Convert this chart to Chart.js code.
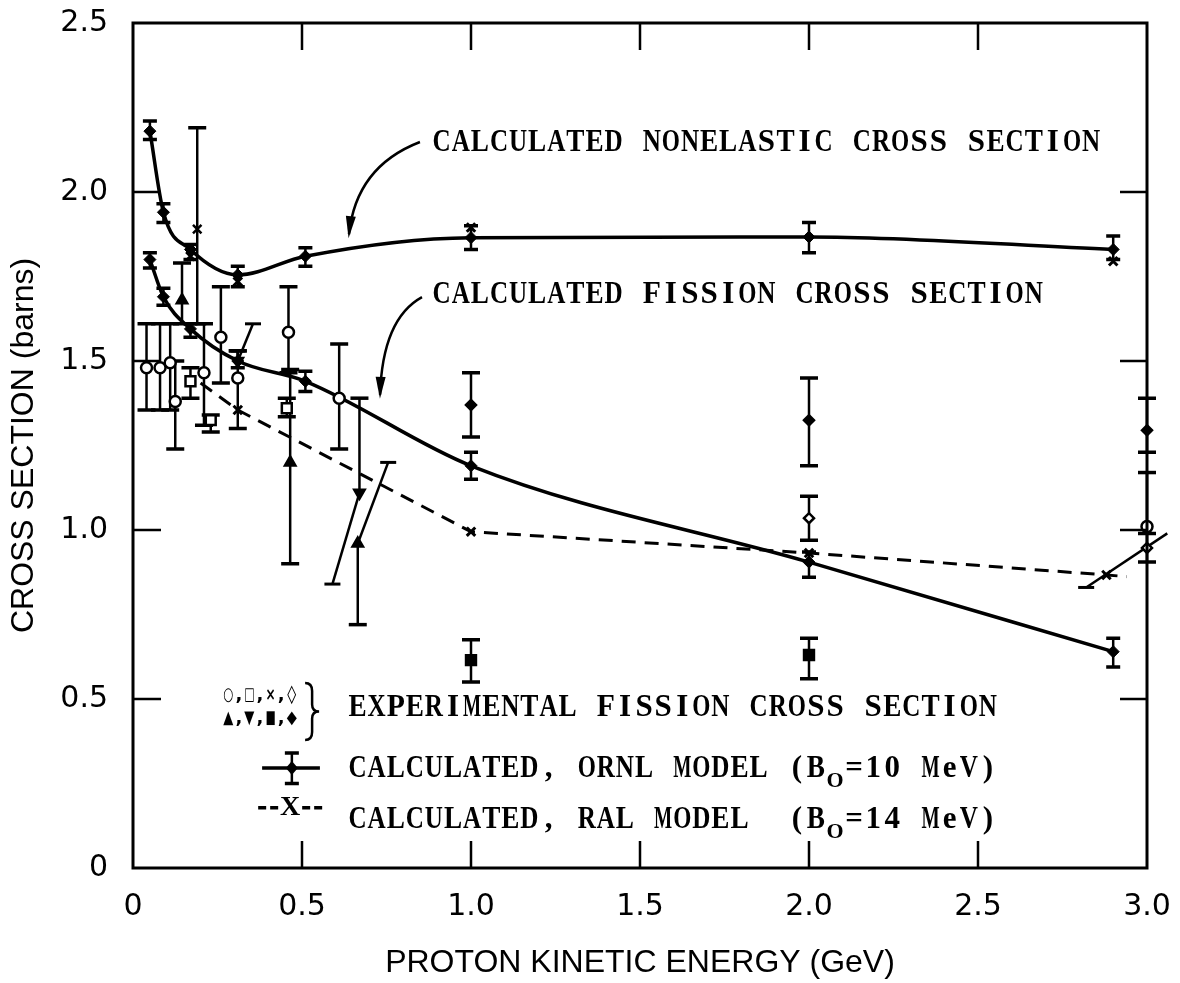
<!DOCTYPE html>
<html>
<head>
<meta charset="utf-8">
<script src="https://cdn.jsdelivr.net/npm/chart.js@4.4.1/dist/chart.umd.min.js"></script>
<style>
  html, body { margin: 0; padding: 0; background: #fff; }
  #wrap { width: 1180px; height: 983px; }
</style>
</head>
<body>
<div id="wrap"><canvas id="fission" width="1180" height="983"></canvas></div>
<script>
// axis tick labels
var xTickLabels = ['0', '0.5', '1.0', '1.5', '2.0', '2.5', '3.0'];
var yTickLabels = ['0', '0.5', '1.0', '1.5', '2.0', '2.5'];

// calculated nonelastic, ORNL model (GeV, barns)
var neE  = [0.05, 0.09, 0.17, 0.31, 0.51, 1.0, 2.0, 2.9];
var neS  = [2.18, 1.94, 1.83, 1.755, 1.81, 1.865, 1.867, 1.83];
var neLo = [2.155, 1.91, 1.80, 1.72, 1.78, 1.83, 1.82, 1.80];
var neHi = [2.21, 1.965, 1.845, 1.78, 1.835, 1.90, 1.91, 1.87];

// calculated fission, ORNL model
var fiE  = [0.05, 0.09, 0.17, 0.31, 0.51, 1.0, 2.0, 2.9];
var fiS  = [1.80, 1.69, 1.595, 1.50, 1.44, 1.19, 0.905, 0.64];
var fiLo = [1.775, 1.665, 1.57, 1.48, 1.41, 1.15, 0.86, 0.595];
var fiHi = [1.82, 1.715, 1.61, 1.53, 1.47, 1.23, 0.935, 0.68];

// calculated, RAL model
var ralFiE = [0.2, 0.31, 1.0, 2.0, 2.88, 2.94];
var ralFiS = [1.435, 1.355, 0.995, 0.932, 0.867, 0.862];
var ralNeE = [0.17, 0.31, 1.0, 2.9];
var ralNeS = [1.81, 1.735, 1.895, 1.795];

// experimental fission cross sections
var circE  = [0.04, 0.08, 0.11, 0.125, 0.21, 0.26, 0.31, 0.46, 0.61, 3.0];
var circS  = [1.48, 1.48, 1.495, 1.38, 1.465, 1.57, 1.45, 1.585, 1.39, 1.01];
var circLo = [1.355, 1.355, 1.355, 1.24, 1.31, 1.435, 1.30, 1.465, 1.24, 1.01];
var circHi = [1.61, 1.61, 1.61, 1.50, 1.61, 1.72, 1.53, 1.72, 1.55, 1.17];

var sqE  = [0.17, 0.23, 0.455];
var sqS  = [1.44, 1.325, 1.36];
var sqLo = [1.39, 1.29, 1.335];
var sqHi = [1.48, 1.34, 1.39];

var crossE  = [0.19];
var crossS  = [1.89];
var crossLo = [1.61];
var crossHi = [2.19];

var openDiaE  = [2.0, 3.0];
var openDiaS  = [1.035, 0.947];
var openDiaLo = [0.97, 0.905];
var openDiaHi = [1.10, 0.99];

var triUpE  = [0.145, 0.465, 0.665];
var triUpS  = [1.68, 1.20, 0.96];
var triUpLo = [1.61, 0.90, 0.72];
var triUpHi = [1.79, 1.475, 0.96];

var triDnE  = [0.31, 0.67];
var triDnS  = [1.50, 1.11];
var triDnLo = [1.50, 1.11];
var triDnHi = [1.53, 1.39];

var fillSqE  = [1.0, 2.0];
var fillSqS  = [0.615, 0.63];
var fillSqLo = [0.55, 0.56];
var fillSqHi = [0.675, 0.68];

var fillDiaE  = [1.0, 2.0, 3.0];
var fillDiaS  = [1.37, 1.325, 1.295];
var fillDiaLo = [1.275, 1.19, 1.23];
var fillDiaHi = [1.465, 1.45, 1.39];

// slanted bars
var slantFromE = [0.31, 0.59, 0.665, 2.82];
var slantFromS = [1.50, 0.84, 0.96, 0.83];
var slantToE   = [0.355, 0.67, 0.755, 3.06];
var slantToS   = [1.61, 1.11, 1.20, 0.99];
var slantCapFrom = [false, true, false, true];
var slantCapTo   = [true, false, true, true];

function pts(e, s) {
  return e.map(function(v, i) { return {x: v, y: s[i]}; });
}

function expSet(label, e, s, lo, hi, style, fill, radius, rot) {
  return {
    label: label,
    data: pts(e, s),
    errLo: lo, errHi: hi, capHalf: 9,
    showLine: false,
    pointStyle: style,
    pointRadius: radius,
    pointRotation: rot || 0,
    pointBackgroundColor: fill,
    pointBorderColor: '#000',
    pointBorderWidth: 2.5
  };
}

var datasets = [
  expSet('circle', circE, circS, circLo, circHi, 'circle', '#fff', 5.5),
  expSet('square', sqE, sqS, sqLo, sqHi, 'rect', '#fff', 7),
  expSet('cross', crossE, crossS, crossLo, crossHi, 'crossRot', '#fff', 6),
  expSet('open diamond', openDiaE, openDiaS, openDiaLo, openDiaHi, 'rectRot', '#fff', 5),
  expSet('triangle up', triUpE, triUpS, triUpLo, triUpHi, 'triangle', '#000', 6),
  expSet('triangle down', triDnE, triDnS, triDnLo, triDnHi, 'triangle', '#000', 6, 180),
  expSet('filled square', fillSqE, fillSqS, fillSqLo, fillSqHi, 'rect', '#000', 7),
  expSet('filled diamond', fillDiaE, fillDiaS, fillDiaLo, fillDiaHi, 'rectRot', '#000', 5),
  {
    label: 'RAL nonelastic',
    data: pts(ralNeE, ralNeS),
    showLine: false,
    pointStyle: 'crossRot', pointRadius: 6,
    pointBorderColor: '#000', pointBorderWidth: 3
  },
  {
    label: 'ORNL nonelastic',
    data: pts(neE, neS),
    errLo: neLo, errHi: neHi, capHalf: 7,
    showLine: true, borderColor: '#000', borderWidth: 3.5,
    cubicInterpolationMode: 'monotone',
    pointStyle: 'rectRot', pointRadius: 6,
    pointBackgroundColor: '#000', pointBorderColor: '#000', pointBorderWidth: 1
  },
  {
    label: 'ORNL fission',
    data: pts(fiE, fiS),
    errLo: fiLo, errHi: fiHi, capHalf: 7,
    showLine: true, borderColor: '#000', borderWidth: 3.5,
    cubicInterpolationMode: 'monotone',
    pointStyle: 'rectRot', pointRadius: 6,
    pointBackgroundColor: '#000', pointBorderColor: '#000', pointBorderWidth: 1
  },
  {
    label: 'RAL fission',
    data: pts(ralFiE, ralFiS),
    showLine: true, borderColor: '#000', borderWidth: 3,
    borderDash: [14, 9],
    pointStyle: 'crossRot',
    pointRadius: ralFiE.map(function(v, i) { return (i === 0 || i === ralFiE.length - 1) ? 0 : 6; }),
    pointBorderColor: '#000', pointBorderWidth: 3
  }
];

slantFromE.forEach(function(v, i) {
  datasets.push({
    label: 'slant ' + i,
    data: [{x: v, y: slantFromS[i]}, {x: slantToE[i], y: slantToS[i]}],
    showLine: true, borderColor: '#000', borderWidth: 2.5,
    pointStyle: 'line',
    pointRadius: [slantCapFrom[i] ? 8 : 0, slantCapTo[i] ? 8 : 0],
    pointBorderColor: '#000', pointBorderWidth: 3
  });
});

// vertical error bars, drawn under the markers
var errorBars = {
  id: 'errorBars',
  beforeDatasetsDraw: function(chart) {
    var ctx = chart.ctx, xs = chart.scales.x, ys = chart.scales.y;
    ctx.save();
    ctx.strokeStyle = '#000';
    chart.data.datasets.forEach(function(ds) {
      if (!ds.errLo) return;
      ds.data.forEach(function(p, i) {
        var lo = ds.errLo[i], hi = ds.errHi[i];
        var x = xs.getPixelForValue(p.x);
        var yl = ys.getPixelForValue(lo), yh = ys.getPixelForValue(hi);
        var w = ds.capHalf;
        ctx.lineWidth = 2.5;
        ctx.beginPath();
        ctx.moveTo(x, yl); ctx.lineTo(x, yh);
        ctx.stroke();
        ctx.lineWidth = 3.5;
        ctx.beginPath();
        if (lo < p.y - 0.004) { ctx.moveTo(x - w, yl); ctx.lineTo(x + w, yl); }
        if (hi > p.y + 0.004) { ctx.moveTo(x - w, yh); ctx.lineTo(x + w, yh); }
        ctx.stroke();
      });
    });
    ctx.restore();
  }
};

function typewrite(ctx, str, x, y, cell) {
  for (var i = 0; i < str.length; i++) {
    if (str[i] !== ' ') ctx.fillText(str[i], x + cell * (i + 0.5), y, cell * 0.95);
  }
}

function arrow(ctx, p0, p1, p2) {
  ctx.lineWidth = 2.5;
  ctx.beginPath();
  ctx.moveTo(p0[0], p0[1]);
  ctx.quadraticCurveTo(p1[0], p1[1], p2[0], p2[1]);
  ctx.stroke();
  var ang = Math.atan2(p2[1] - p1[1], p2[0] - p1[0]);
  var len = 18, half = 5;
  ctx.beginPath();
  ctx.moveTo(p2[0] + Math.cos(ang) * 4, p2[1] + Math.sin(ang) * 4);
  ctx.lineTo(p2[0] - Math.cos(ang) * len - Math.sin(ang) * half, p2[1] - Math.sin(ang) * len + Math.cos(ang) * half);
  ctx.lineTo(p2[0] - Math.cos(ang) * len + Math.sin(ang) * half, p2[1] - Math.sin(ang) * len - Math.cos(ang) * half);
  ctx.closePath();
  ctx.fill();
}

// frame with inward ticks, labels, arrows and the in-plot key
var notes = {
  id: 'notes',
  afterDraw: function(chart) {
    var ctx = chart.ctx, a = chart.chartArea, xs = chart.scales.x, ys = chart.scales.y;
    var X = function(v) { return xs.getPixelForValue(v); };
    var Y = function(v) { return ys.getPixelForValue(v); };
    ctx.save();
    ctx.strokeStyle = '#000';
    ctx.fillStyle = '#000';

    ctx.lineWidth = 3;
    ctx.strokeRect(a.left, a.top, a.right - a.left, a.bottom - a.top);
    ctx.lineWidth = 2.5;
    ctx.beginPath();
    xs.ticks.forEach(function(t, i) {
      if (i === 0 || i === xs.ticks.length - 1) return;
      var px = X(t.value);
      ctx.moveTo(px, a.bottom); ctx.lineTo(px, a.bottom - 27);
      ctx.moveTo(px, a.top); ctx.lineTo(px, a.top + 27);
    });
    ys.ticks.forEach(function(t, i) {
      if (i === 0 || i === ys.ticks.length - 1) return;
      var py = Y(t.value);
      ctx.moveTo(a.left, py); ctx.lineTo(a.left + 28, py);
      ctx.moveTo(a.right, py); ctx.lineTo(a.right - 27, py);
    });
    ctx.stroke();

    ctx.textAlign = 'center';
    ctx.textBaseline = 'middle';
    var cell = 19.1;
    var big = 'bold 31px "Liberation Serif"';
    var sub = 'bold 22px "Liberation Serif"';
    ctx.font = big;
    typewrite(ctx, 'CALCULATED NONELASTIC CROSS SECTION', X(0.885), Y(2.145), cell);
    typewrite(ctx, 'CALCULATED FISSION CROSS SECTION', X(0.885), Y(1.695), cell);

    arrow(ctx, [X(0.849), Y(2.148)], [X(0.660), Y(2.075)], [X(0.639), Y(1.875)]);
    arrow(ctx, [X(0.855), Y(1.689)], [X(0.738), Y(1.625)], [X(0.731), Y(1.40)]);

    // key
    var kx = X(0.636);
    typewrite(ctx, 'EXPERIMENTAL FISSION CROSS SECTION', kx, Y(0.473), cell);
    var rows = [['CALCULATED, ORNL MODEL (B', '=10 MeV)', Y(0.293)],
                ['CALCULATED, RAL MODEL  (B', '=14 MeV)', Y(0.142)]];
    rows.forEach(function(r) {
      ctx.font = big;
      typewrite(ctx, r[0], kx, r[2], cell);
      typewrite(ctx, r[1], kx + cell * 26, r[2], cell);
      ctx.font = sub;
      typewrite(ctx, 'O', kx + cell * 25, r[2] + 12, cell);
    });

    ctx.font = 'bold 18px "DejaVu Sans"';
    typewrite(ctx, '\u25CB,\u25A1,\u00D7,\u25CA', X(0.266), Y(0.512), 10.6);
    typewrite(ctx, '\u25B2,\u25BC,\u25A0,\u25C6', X(0.266), Y(0.444), 10.6);

    // brace
    var bx = X(0.524), bt = Y(0.547), bb = Y(0.379), bm = (bt + bb) / 2;
    ctx.lineWidth = 2.5;
    ctx.beginPath();
    ctx.moveTo(bx - 5, bt);
    ctx.quadraticCurveTo(bx + 2, bt, bx + 2, bt + 8);
    ctx.lineTo(bx + 2, bm - 7);
    ctx.quadraticCurveTo(bx + 2, bm, bx + 9, bm);
    ctx.quadraticCurveTo(bx + 2, bm, bx + 2, bm + 7);
    ctx.lineTo(bx + 2, bb - 8);
    ctx.quadraticCurveTo(bx + 2, bb, bx - 5, bb);
    ctx.stroke();

    // ORNL key symbol
    var oy = Y(0.296), ox = X(0.47);
    ctx.lineWidth = 3.5;
    ctx.beginPath();
    ctx.moveTo(X(0.382), oy); ctx.lineTo(X(0.553), oy);
    ctx.moveTo(ox - 7, Y(0.34)); ctx.lineTo(ox + 7, Y(0.34));
    ctx.moveTo(ox - 7, Y(0.25)); ctx.lineTo(ox + 7, Y(0.25));
    ctx.stroke();
    ctx.lineWidth = 2.5;
    ctx.beginPath();
    ctx.moveTo(ox, Y(0.34)); ctx.lineTo(ox, Y(0.25));
    ctx.stroke();
    ctx.beginPath();
    ctx.moveTo(ox, oy - 7); ctx.lineTo(ox + 6, oy); ctx.lineTo(ox, oy + 7); ctx.lineTo(ox - 6, oy);
    ctx.closePath();
    ctx.fill();

    // RAL key symbol
    var ry = Y(0.178), rx = X(0.465);
    ctx.lineWidth = 3.5;
    ctx.beginPath();
    [-32, -20, 12, 24].forEach(function(d) {
      ctx.moveTo(rx + d, ry); ctx.lineTo(rx + d + 8, ry);
    });
    ctx.stroke();
    ctx.font = 'bold 28px "Liberation Serif"';
    ctx.fillText('X', rx, ry);

    ctx.restore();
  }
};

var ctx = document.getElementById('fission').getContext('2d');
var config = {
  type: 'scatter',
  data: { datasets: datasets },
  options: {
    responsive: false,
    animation: false,
    events: [],
    clip: false,
    layout: { padding: { top: 23, right: 33, bottom: 0, left: 0 } },
    plugins: {
      legend: { display: false },
      tooltip: { enabled: false }
    },
    scales: {
      x: {
        type: 'linear',
        min: 0, max: 3,
        afterFit: function(scale) {
          scale.height = 115;
          scale.paddingLeft = 0;
          scale.paddingRight = 0;
        },
        grid: { display: false, drawTicks: false },
        border: { display: false },
        ticks: {
          stepSize: 0.5,
          maxRotation: 0,
          padding: 21,
          color: '#000',
          font: { family: 'DejaVu Sans', size: 30 },
          callback: function(v, i) { return xTickLabels[i]; }
        },
        title: {
          display: true,
          text: 'PROTON KINETIC ENERGY (GeV)',
          color: '#000',
          font: { family: 'Liberation Sans', size: 32 },
          padding: { top: 0, bottom: 1 }
        }
      },
      y: {
        type: 'linear',
        min: 0, max: 2.5,
        afterFit: function(scale) {
          scale.width = 133;
          scale.paddingTop = 0;
          scale.paddingBottom = 0;
        },
        grid: { display: false, drawTicks: false },
        border: { display: false },
        ticks: {
          stepSize: 0.5,
          padding: 25,
          color: '#000',
          font: { family: 'DejaVu Sans', size: 30 },
          callback: function(v, i) { return yTickLabels[i]; }
        },
        title: {
          display: true,
          text: 'CROSS SECTION (barns)',
          color: '#000',
          font: { family: 'Liberation Sans', size: 32 },
          padding: { top: 5, bottom: 0 }
        }
      }
    }
  },
  plugins: [errorBars, notes]
};

var myChart = new Chart(ctx, config);
</script>
</body>
</html>
